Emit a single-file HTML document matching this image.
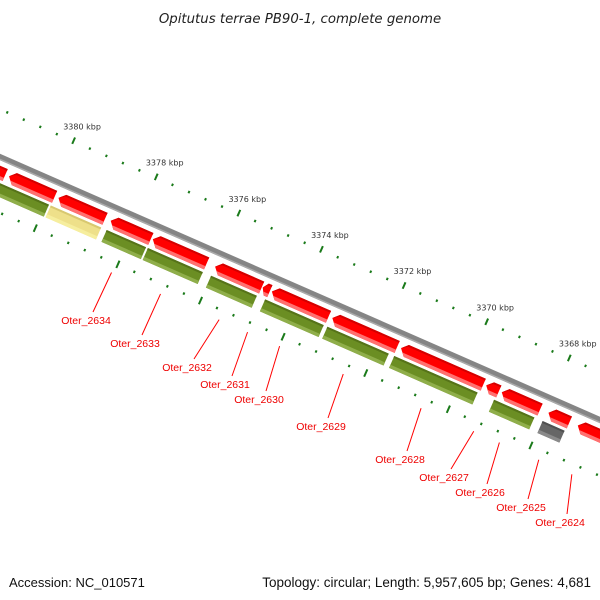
<!DOCTYPE html>
<html><head><meta charset="utf-8"><style>
html,body{margin:0;padding:0;background:#fff;}
svg{display:block;font-family:"Liberation Sans","DejaVu Sans",sans-serif;}
</style></head><body>
<svg id="chart" width="600" height="600" viewBox="0 0 600 600" xmlns="http://www.w3.org/2000/svg">
<rect width="600" height="600" fill="#fff"/>
<text x="300" y="23" text-anchor="middle" font-size="13.3" font-style="italic" fill="#222" style="font-family:'DejaVu Sans',sans-serif">Opitutus terrae PB90-1, complete genome</text>
<g id="rot" transform="translate(0,157) rotate(23.67)"></g>
<g id="ann"></g>
<text x="9" y="587" font-size="13" fill="#111">Accession: NC_010571</text>
<text x="591" y="587" font-size="13.5" fill="#111" text-anchor="end">Topology: circular; Length: 5,957,605 bp; Genes: 4,681</text>
</svg>
<script>
// data (kbp)
const fwdStart = [3382.015,3380.995,3379.798,3378.534,3377.514,3376.006,3374.853,3374.632,3373.168,3371.505,3369.443,3369.066,3367.935,3367.226];
const fwdEnd   = [3381.084,3379.887,3378.667,3377.558,3376.206,3374.875,3374.676,3373.257,3371.594,3369.510,3369.133,3368.135,3367.425,3366.600];
const revStart = [3382.015,3379.887,3378.534,3377.536,3376.006,3374.698,3373.190,3371.572,3369.155,3367.980];
const revEnd   = [3379.931,3378.667,3377.581,3376.206,3374.898,3373.279,3371.705,3369.554,3368.179,3367.448];
const revKind  = ['cds','other','cds','cds','cds','cds','cds','cds','cds','grey'];
const majorTicks = [3380,3378,3376,3374,3372,3370,3368];
const tickLabels = ['3380 kbp','3378 kbp','3376 kbp','3374 kbp','3372 kbp','3370 kbp','3368 kbp'];
const geneNames  = ['Oter_2634','Oter_2633','Oter_2632','Oter_2631','Oter_2630','Oter_2629','Oter_2628','Oter_2627','Oter_2626','Oter_2625','Oter_2624'];
const geneTrack  = ['rev','rev','rev','fwd','rev','rev','rev','fwd','rev','rev','fwd'];
const geneIndex  = [2,3,4,6,5,6,7,10,8,9,13];
const labelX = [86,135,187,225,259,321,400,444,480,521,560];
const labelY = [324,347,371,388,403,430,463,481,496,511,526];

const NS='http://www.w3.org/2000/svg';
const rot=document.getElementById('rot'), ann=document.getElementById('ann');
const C=Math.cos(23.67*Math.PI/180), S=Math.sin(23.67*Math.PI/180);
function U(k){return (3381.35-k)*45.1;}
function P(u,v){return [u*C - v*S, 157 + u*S + v*C];}
function mk(tag,attrs,parent){const e=document.createElementNS(NS,tag);for(const a in attrs)e.setAttribute(a,attrs[a]);parent.appendChild(e);return e;}

// backbone
const bb=mk('rect',{x:-60,y:-3,width:820,height:6,fill:'#858585'},rot);


const bb2=mk('rect',{x:-60,y:1.5,width:820,height:1.5,fill:'#aaa'},rot);



// ticks
for(let k=3382.0;k>=3366.0-1e-6;k-=0.4){
  const kk=Math.round(k*10)/10;
  const major=Math.abs(kk-Math.round(kk))<1e-6 && Math.round(kk)%2===0;
  const u=U(kk);
  const t1=mk('rect',{x:u-1,y:major?-48:-45,width:2,height:major?7:2.5,fill:'#1a7a1a'},rot);
  
  
  const t2=mk('rect',{x:u-1,y:major?47:50,width:2,height:major?8:2.5,fill:'#1a7a1a'},rot);
  
  
}
majorTicks.forEach((k,i)=>{
  const p=P(U(k)+2,-61);
  const t=mk('text',{x:p[0],y:p[1]+3,'text-anchor':'middle','font-size':8,fill:'#333',style:"font-family:'DejaVu Sans',sans-serif"},ann);
  t.textContent=tickLabels[i];
  
  
});

// forward genes (red arrows pointing left)
fwdStart.forEach((s,i)=>{
  const u0=U(s), u1=U(fwdEnd[i]);
  const g=mk('g',{},rot);
  
  
  const tip=Math.min(6,(u1-u0)/2);
  mk('polygon',{points:`${u0},14 ${u0+tip},8 ${u1},8 ${u1},21 ${u0+tip},21`,fill:'#ff0000'},g);
  mk('polygon',{points:`${u0+tip*0.5},17.5 ${u1},17.5 ${u1},21 ${u0+tip},21`,fill:'#ff7070'},g);
  mk('polygon',{points:`${u0},14 ${u0+tip},8 ${u1},8 ${u1},10 ${u0+tip},10`,fill:'#d40000'},g);
});
// reverse genes
revStart.forEach((s,i)=>{
  const u0=U(s), u1=U(revEnd[i]);
  const kind=revKind[i];
  const main=kind==='other'?'#eee08a':kind==='grey'?'#666666':'#6b8e23';
  const light=kind==='other'?'#f6ee9e':kind==='grey'?'#8a8a8a':'#8fae4a';
  const dark=kind==='other'?'#d8c870':kind==='grey'?'#505050':'#567319';
  const g=mk('g',{},rot);
  
  
  mk('rect',{x:u0,y:24,width:u1-u0,height:13,fill:main},g);
  mk('rect',{x:u0,y:33.5,width:u1-u0,height:3.5,fill:light},g);
  mk('rect',{x:u0,y:24,width:u1-u0,height:2,fill:dark},g);
});

// labels
geneNames.forEach((n,i)=>{
  const idx=geneIndex[i];
  const u=geneTrack[i]==='fwd'?(U(fwdStart[idx])+U(fwdEnd[idx]))/2:(U(revStart[idx])+U(revEnd[idx]))/2;
  const p=P(u,61);
  const ln=mk('line',{x1:p[0],y1:p[1],x2:labelX[i]+7,y2:labelY[i]-12,stroke:'#ff0000','stroke-width':1},ann);
  
  
  const t=mk('text',{x:labelX[i],y:labelY[i],'text-anchor':'middle','font-size':10.5,fill:'#ee0000'},ann);
  t.textContent=n;
  
  
});
</script>
</body></html>
